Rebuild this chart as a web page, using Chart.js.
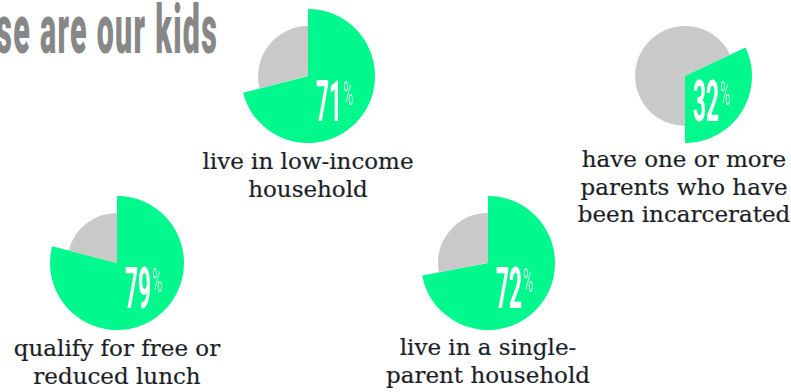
<!DOCTYPE html>
<html>
<head>
<meta charset="utf-8">
<script src="https://cdn.jsdelivr.net/npm/chart.js@4"></script>
<style>
  html, body { margin: 0; padding: 0; }
  body { width: 791px; height: 392px; overflow: hidden; background: #fff; position: relative; }
  #title {
    position: absolute; right: 573px; top: -5px;
    font: 900 69px Roboto, sans-serif; line-height: 69px; color: #878787;
    letter-spacing: 3px;
    white-space: nowrap; transform: scaleX(0.44); transform-origin: right top;
  }
  .pie { position: absolute; width: 140px; height: 140px; }
  .caption {
    position: absolute; width: 320px; text-align: center;
    font: 23px "DejaVu Serif", serif; line-height: 27.5px; color: #1b1f27;
    -webkit-text-stroke: 0.2px #1b1f27;
    white-space: nowrap;
  }
</style>
</head>
<body>
<div id="title">These are our kids</div>
<script>
'use strict';
// share of kids in each group, in percent
let categories = [
  ['live in low-income', 'household'],
  ['have one or more', 'parents who have', 'been incarcerated'],
  ['qualify for free or', 'reduced lunch'],
  ['live in a single-', 'parent household']
];
let percents = [71, 32, 79, 72];
// the second pie has its green slice ending at 6 o'clock instead of starting at 12
let endsAtBottom = [false, true, false, false];

// layout: pie centres and caption placement
let pieCenters = [[308, 76], [685, 76], [117, 263], [488, 263]];
let captionPos = [[308, 148], [684, 146], [117, 335], [488, 334]];

let green = '#00f88c';
let grey = '#c9c9c9';
let greyScale = 0.745;

// grey slice is drawn with a smaller radius than the green one
let shrinkGrey = {
  id: 'shrinkGrey',
  afterDatasetUpdate(chart, args) {
    let ds = chart.data.datasets[args.index];
    args.meta.data.forEach(function (arc, i) {
      if (ds.backgroundColor[i] === grey) {
        arc.outerRadius = arc.outerRadius * greyScale;
      }
    });
  }
};

// condensed white percentage inside the green slice
let pctLabel = {
  id: 'pctLabel',
  afterDatasetsDraw(chart, args, opts) {
    let arc = chart.getDatasetMeta(0).data[0];
    let ctx = chart.ctx;
    let text = String(opts.value);
    ctx.save();
    ctx.fillStyle = '#fff';
    ctx.textBaseline = 'alphabetic';
    ctx.textAlign = 'left';
    ctx.translate(arc.x + 8, arc.y + 45);
    ctx.scale(0.4, 1);
    ctx.font = '700 57px Roboto, sans-serif';
    ctx.fillText(text, 0, 0);
    let w = ctx.measureText(text).width;
    ctx.font = '300 34px Roboto, sans-serif';
    ctx.fillText('%', w + 3, -16);
    ctx.restore();
  }
};

for (let i = 0; i < percents.length; i++) {
  let box = document.createElement('div');
  box.className = 'pie';
  box.style.left = (pieCenters[i][0] - 70) + 'px';
  box.style.top = (pieCenters[i][1] - 70) + 'px';
  let canvas = document.createElement('canvas');
  box.appendChild(canvas);
  document.body.appendChild(box);

  let values = [percents[i], 100 - percents[i]];
  let colors = [green, grey];
  let labels = ['share', 'other'];
  let rotation = 0;
  if (endsAtBottom[i]) {
    values.reverse();
    colors.reverse();
    labels.reverse();
    rotation = 180;
  }

  new Chart(canvas, {
    type: 'pie',
    data: {
      labels: labels,
      datasets: [{
        data: values,
        backgroundColor: colors,
        borderWidth: 0
      }]
    },
    options: {
      responsive: true,
      maintainAspectRatio: false,
      animation: false,
      events: [],
      rotation: rotation,
      layout: { padding: 3 },
      plugins: {
        legend: { display: false },
        tooltip: { enabled: false },
        pctLabel: { value: percents[i] }
      }
    },
    plugins: [shrinkGrey, pctLabel]
  });

  let cap = document.createElement('div');
  cap.className = 'caption';
  cap.style.left = (captionPos[i][0] - 160) + 'px';
  cap.style.top = captionPos[i][1] + 'px';
  cap.innerHTML = categories[i].join('<br>');
  document.body.appendChild(cap);
}
</script>
</body>
</html>
